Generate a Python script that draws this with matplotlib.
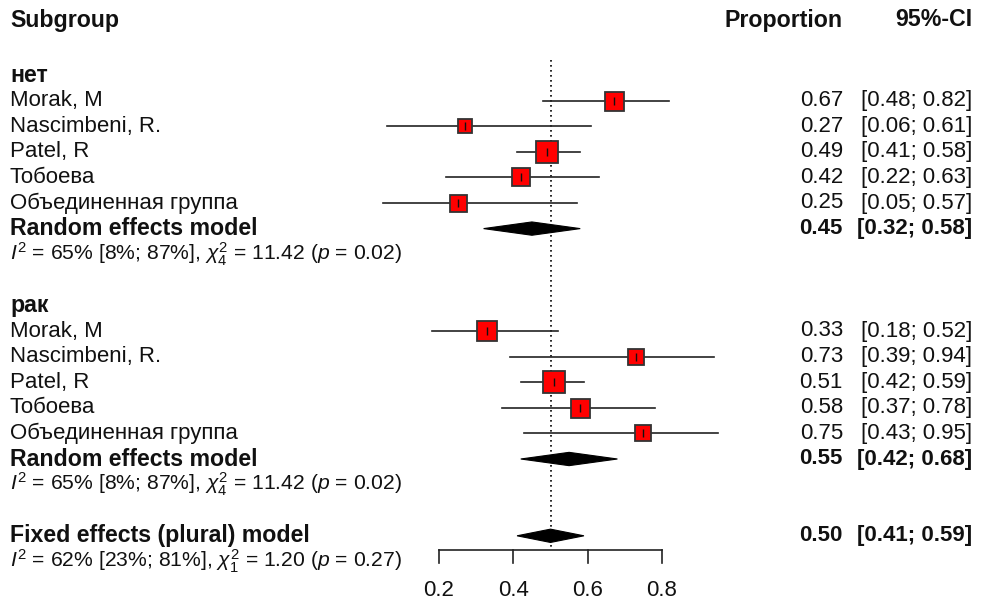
import os
import matplotlib
matplotlib.use("Agg")
import matplotlib.pyplot as plt
import matplotlib.transforms as mtransforms
from matplotlib import font_manager as fm
from matplotlib.patches import Polygon

plt.rcParams["font.family"] = ["Liberation Sans", "DejaVu Sans"]
plt.rcParams["mathtext.fontset"] = "custom"
plt.rcParams["mathtext.rm"] = "Liberation Sans"
plt.rcParams["mathtext.it"] = "Liberation Sans:italic"
plt.rcParams["mathtext.bf"] = "Liberation Sans:bold"

# data
studies = ["Morak, M", "Nascimbeni, R.", "Patel, R", "Тобоева", "Объединенная группа"]

net_est = [0.67, 0.27, 0.49, 0.42, 0.25]
net_lo = [0.48, 0.06, 0.41, 0.22, 0.05]
net_hi = [0.82, 0.61, 0.58, 0.63, 0.57]
net_box = [19, 14, 23, 18, 17]  # square side (study weight)

rak_est = [0.33, 0.73, 0.51, 0.58, 0.75]
rak_lo = [0.18, 0.39, 0.42, 0.37, 0.43]
rak_hi = [0.52, 0.94, 0.59, 0.78, 0.95]
rak_box = [20, 16, 23, 19, 16]

net_random = [0.45, 0.32, 0.58]
rak_random = [0.55, 0.42, 0.68]
fixed_all = [0.50, 0.41, 0.59]

net_het = r"$I^2$ = 65% [8%; 87%], $\chi^2_4$ = 11.42 ($p$ = 0.02)"
rak_het = r"$I^2$ = 65% [8%; 87%], $\chi^2_4$ = 11.42 ($p$ = 0.02)"
fixed_het = r"$I^2$ = 62% [23%; 81%], $\chi^2_1$ = 1.20 ($p$ = 0.27)"

ticks = [0.2, 0.4, 0.6, 0.8]
ref_value = 0.5

# the plain (not Narrow) Liberation Sans Bold file
bold_file = None
for f in fm.fontManager.ttflist:
    if os.path.basename(f.fname).lower() == "liberationsans-bold.ttf":
        bold_file = f.fname
        break

FS = 16
LBFS = 16.7  # bold labels on the left and column headers
HFS = 15.2
TXT = "#111111"


def bold(size=FS):
    if bold_file:
        return fm.FontProperties(fname=bold_file, size=size)
    return fm.FontProperties(family="Liberation Sans", weight="bold", size=size)


W, H = 982, 601
fig = plt.figure(figsize=(W / 100, H / 100), dpi=100)
ax = fig.add_axes([0, 0, 1, 1])
ax.axis("off")

# x: 0.2 -> 439px, 0.8 -> 662px ; y: row r -> 75 + 25.6 r px
px_per_unit = (662 - 439) / 0.6
x0 = 439 - 0.2 * px_per_unit
ax.set_xlim(-x0 / px_per_unit, (W - x0) / px_per_unit)
row_h = 25.6
ax.set_ylim((H - 75) / row_h, -75 / row_h)

tr = mtransforms.blended_transform_factory(ax.transAxes, ax.transData)
xl = 10 / W
xprop = 843 / W
xci = 972 / W


def draw_group(row0, name, est, lo, hi, box, random, het):
    ax.text(xl, row0, name, transform=tr, fontproperties=bold(LBFS),
            va="center", ha="left", color=TXT)
    for i, s in enumerate(studies):
        r = row0 + 1 + i
        ax.text(xl, r, s, transform=tr, fontsize=FS, va="center", ha="left", color=TXT)
        ax.plot([lo[i], hi[i]], [r, r], color="#222222", lw=1.2, zorder=2)
        ax.plot(est[i], r, marker="s", ms=box[i] * 0.72, mfc="#ff0000",
                mec="#333333", mew=1.3, zorder=3)
        ax.plot(est[i], r, marker="|", ms=6, mec="#111111", mew=1.0, zorder=4)
        ax.text(xprop, r, "%.2f" % est[i], transform=tr, fontsize=FS,
                va="center", ha="right", color=TXT)
        ax.text(xci, r, "[%.2f; %.2f]" % (lo[i], hi[i]), transform=tr, fontsize=FS,
                va="center", ha="right", color=TXT)
    r = row0 + 6
    draw_summary(r, "Random effects model", random)
    ax.text(xl, r + 1, het, transform=tr, fontsize=HFS, va="center", ha="left", color=TXT)


def draw_summary(r, label, vals):
    m, lo, hi = vals
    dh = 0.26
    ax.add_patch(Polygon([[lo, r], [m, r - dh], [hi, r], [m, r + dh]],
                         closed=True, fc="black", ec="black", lw=0.8, zorder=3))
    ax.text(xl, r, label, transform=tr, fontproperties=bold(LBFS),
            va="center", ha="left", color=TXT)
    ax.text(xprop, r, "%.2f" % m, transform=tr, fontproperties=bold(),
            va="center", ha="right", color=TXT)
    ax.text(xci, r, "[%.2f; %.2f]" % (lo, hi), transform=tr, fontproperties=bold(),
            va="center", ha="right", color=TXT)


# header
hdr = -55 / row_h
ax.text(xl, hdr, "Subgroup", transform=tr, fontproperties=bold(LBFS),
        va="center", ha="left", color=TXT)
ax.text(xprop, hdr, "Proportion", transform=tr, fontproperties=bold(LBFS),
        va="center", ha="right", color=TXT)
ax.text(xci, hdr, "95%-CI", transform=tr, fontproperties=bold(LBFS),
        va="center", ha="right", color=TXT)

draw_group(0, "нет", net_est, net_lo, net_hi, net_box, net_random, net_het)
draw_group(9, "рак", rak_est, rak_lo, rak_hi, rak_box, rak_random, rak_het)

draw_summary(18, "Fixed effects (plural) model", fixed_all)
ax.text(xl, 19, fixed_het, transform=tr, fontsize=HFS, va="center", ha="left", color=TXT)

# reference line
axis_y = (550 - 75) / row_h
ax.plot([ref_value, ref_value], [(60 - 75) / row_h, axis_y], color="black",
        lw=1.2, ls=(0, (1, 2)), zorder=1)

# x axis
tick_len = 13 / row_h
ax.plot([ticks[0], ticks[-1]], [axis_y, axis_y], color="#222222", lw=1.2)
for t in ticks:
    ax.plot([t, t], [axis_y, axis_y + tick_len], color="#222222", lw=1.2)
    ax.text(t, (590 - 75) / row_h, "%.1f" % t, fontsize=FS, ha="center",
            va="center", color=TXT)

fig.savefig("out.png", dpi=100)
